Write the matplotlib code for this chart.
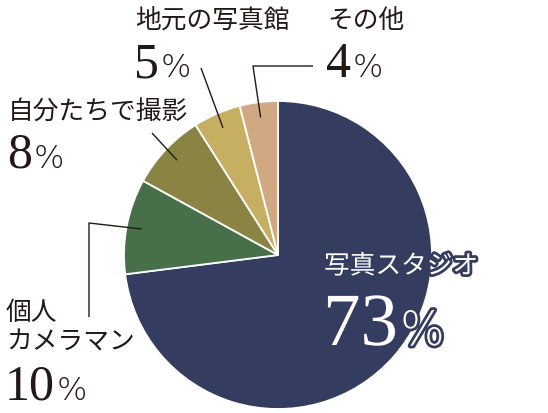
import numpy as np
import matplotlib.pyplot as plt
import matplotlib.patheffects as pe

# data
labels = ['写真スタジオ', '個人\nカメラマン', '自分たちで撮影', '地元の写真館', 'その他']
values = [73, 10, 8, 5, 4]
colors = ['#343d5f', '#47704a', '#8a8444', '#c7af62', '#d0a881']

W, H = 548, 413
ink = '#231815'
jp_font = ['Noto Sans CJK JP', 'DejaVu Sans']
num_font = 'Liberation Serif'

fig = plt.figure(figsize=(W / 100, H / 100), dpi=100)
ax = fig.add_axes([0, 0, 1, 1])

cx, cy, r = 278, H - 255, 154
wedges, _ = ax.pie(values, colors=colors, startangle=90, counterclock=False,
                   center=(cx, cy), radius=r,
                   wedgeprops=dict(edgecolor='white', linewidth=1.3))
ax.set_xlim(0, W)
ax.set_ylim(0, H)
ax.set_aspect('equal')
ax.axis('off')
renderer = fig.canvas.get_renderer()


def inner_point(w, f=0.9):
    mid = np.deg2rad((w.theta1 + w.theta2) / 2)
    return cx + f * r * np.cos(mid), cy + f * r * np.sin(mid)


def leader(points_px, w):
    xs = [p[0] for p in points_px]
    ys = [H - p[1] for p in points_px]
    ex, ey = inner_point(w)
    ax.plot(xs + [ex], ys + [ey], color=ink, lw=1.0, solid_capstyle='butt')


def label(i, x, y_name, y_base, small=True, color=ink, effects=None):
    ax.text(x, H - y_name, labels[i], family=jp_font, fontsize=18.5, color=color,
            ha='left', va='center', linespacing=1.2, path_effects=effects)
    num = ax.text(x - 1, H - y_base, str(values[i]), family=num_font,
                  fontsize=36 if small else 54, color=color,
                  ha='left', va='baseline', path_effects=effects)
    # put the percent sign right after the number
    x1 = ax.transData.inverted().transform(num.get_window_extent(renderer))[1][0]
    ax.text(x1 + 2, H - y_base, '%', family='DejaVu Sans', weight='light',
            fontsize=23 if small else 34, color=color,
            ha='left', va='baseline', path_effects=effects)


# leader lines
leader([(313, 66), (253, 66)], wedges[4])
leader([(201, 68)], wedges[3])
leader([(152, 133)], wedges[2])
leader([(89, 317), (89, 223)], wedges[1])

# labels
label(3, 135, 21.5, 77)
label(4, 327, 21.5, 77)
label(2, 8, 113, 168)
label(1, 6, 327.5, 400)

stroke = [pe.Stroke(linewidth=4, foreground=colors[0]), pe.Normal()]
label(0, 324, 266.5, 345, small=False, color='white', effects=stroke)

fig.savefig('out.png', dpi=100)
